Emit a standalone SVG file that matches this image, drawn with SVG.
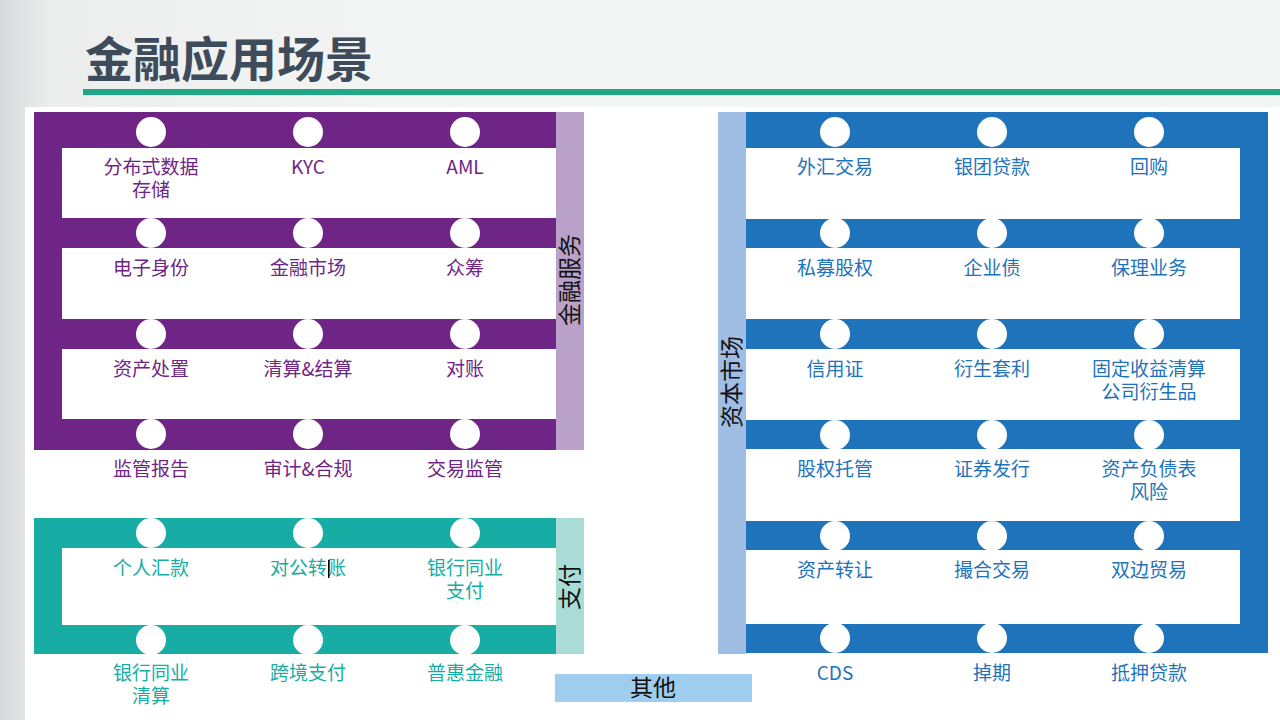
<svg xmlns="http://www.w3.org/2000/svg" width="1280" height="720" viewBox="0 0 1280 720">
  <defs>
    <linearGradient id="bg" x1="0" y1="0" x2="1" y2="0">
      <stop offset="0" stop-color="#d8d9da"/>
      <stop offset="0.04" stop-color="#eceded"/>
      <stop offset="0.3" stop-color="#f3f4f4"/>
      <stop offset="1" stop-color="#f4f5f5"/>
    </linearGradient>
    <style>
      .lbl { font-family: "Noto Sans CJK SC", "Noto Sans", sans-serif; font-size: 19px; text-anchor: middle; }
      .p { fill: #6f2585; }
      .t { fill: #17ada4; }
      .b { fill: #1f73bb; }
      .stn { fill: #ffffff; }
      .side { font-family: "Noto Sans CJK SC", "Noto Sans", sans-serif; font-size: 23px; fill: #111111; text-anchor: middle; }
      .row { fill: #ffffff; }
    </style>
  </defs>

  <rect x="0" y="0" width="1280" height="720" fill="url(#bg)"/>
  <rect x="25" y="107" width="1255" height="613" fill="#ffffff"/>

  <g id="title">
    <text x="85" y="77" font-family="'Noto Sans CJK SC', 'Noto Sans', sans-serif" font-size="48" font-weight="bold" fill="#3d4b5b">金融应用场景</text>
    <rect x="83" y="89" width="1197" height="6" fill="#1fa884"/>
  </g>

  <g id="connectors">
    <!-- 金融服务 line -->
    <rect x="34" y="112" width="522" height="338" fill="#6f2585"/>
    <rect class="row" x="62" y="148" width="494" height="70"/>
    <rect class="row" x="62" y="248" width="494" height="71"/>
    <rect class="row" x="62" y="349" width="494" height="70"/>
    <!-- 支付 line -->
    <rect x="34" y="518" width="522" height="136" fill="#17ada4"/>
    <rect class="row" x="62" y="548" width="494" height="77"/>
    <!-- 资本市场 line -->
    <rect x="746" y="112" width="522" height="541" fill="#1f73bb"/>
    <rect class="row" x="746" y="148" width="494" height="71"/>
    <rect class="row" x="746" y="248" width="494" height="71"/>
    <rect class="row" x="746" y="349" width="494" height="71"/>
    <rect class="row" x="746" y="449" width="494" height="72"/>
    <rect class="row" x="746" y="550" width="494" height="74"/>
  </g>

  <g id="group-jinrongfuwu">
    <rect x="556" y="112" width="28" height="338" fill="#b9a1ca"/>
    <text class="side" transform="translate(578 280) rotate(-90)">金融服务</text>
  </g>
  <g id="group-zhifu">
    <rect x="556" y="518" width="28" height="136" fill="#a9dcd7"/>
    <text class="side" transform="translate(578 587) rotate(-90)">支付</text>
  </g>
  <g id="group-zibenshichang">
    <rect x="718" y="112" width="28" height="542" fill="#a0bee4"/>
    <text class="side" transform="translate(740 382) rotate(-90)">资本市场</text>
  </g>
  <g id="group-qita">
    <rect x="555" y="674" width="197" height="28" fill="#9fcdee"/>
    <text class="side" x="653" y="696">其他</text>
  </g>

  <!-- 金融服务 stations -->
  <g id="n-fenbushi"><circle class="stn" cx="151" cy="132" r="15"/><text class="lbl p" x="151" y="174">分布式数据<tspan x="151" dy="23">存储</tspan></text></g>
  <g id="n-kyc"><circle class="stn" cx="308" cy="132" r="15"/><text class="lbl p" x="308" y="174">KYC</text></g>
  <g id="n-aml"><circle class="stn" cx="465" cy="132" r="15"/><text class="lbl p" x="465" y="174">AML</text></g>
  <g id="n-dianzishenfen"><circle class="stn" cx="151" cy="233" r="15"/><text class="lbl p" x="151" y="275">电子身份</text></g>
  <g id="n-jinrongshichang"><circle class="stn" cx="308" cy="233" r="15"/><text class="lbl p" x="308" y="275">金融市场</text></g>
  <g id="n-zhongchou"><circle class="stn" cx="465" cy="233" r="15"/><text class="lbl p" x="465" y="275">众筹</text></g>
  <g id="n-zichanchuzhi"><circle class="stn" cx="151" cy="334" r="15"/><text class="lbl p" x="151" y="376">资产处置</text></g>
  <g id="n-qingsuan"><circle class="stn" cx="308" cy="334" r="15"/><text class="lbl p" x="308" y="376">清算&amp;结算</text></g>
  <g id="n-duizhang"><circle class="stn" cx="465" cy="334" r="15"/><text class="lbl p" x="465" y="376">对账</text></g>
  <g id="n-jianguanbaogao"><circle class="stn" cx="151" cy="434" r="15"/><text class="lbl p" x="151" y="476">监管报告</text></g>
  <g id="n-shenji"><circle class="stn" cx="308" cy="434" r="15"/><text class="lbl p" x="308" y="476">审计&amp;合规</text></g>
  <g id="n-jiaoyijianguan"><circle class="stn" cx="465" cy="434" r="15"/><text class="lbl p" x="465" y="476">交易监管</text></g>

  <!-- 支付 stations -->
  <g id="n-gerenhuikuan"><circle class="stn" cx="151" cy="533" r="15"/><text class="lbl t" x="151" y="575">个人汇款</text></g>
  <g id="n-duigongzhuanzhang"><circle class="stn" cx="308" cy="533" r="15"/><text class="lbl t" x="308" y="575">对公转账</text><rect x="328" y="560" width="1.5" height="18" fill="#000000"/></g>
  <g id="n-yinhangzhifu"><circle class="stn" cx="465" cy="533" r="15"/><text class="lbl t" x="465" y="575">银行同业<tspan x="465" dy="23">支付</tspan></text></g>
  <g id="n-yinhangqingsuan"><circle class="stn" cx="151" cy="640" r="15"/><text class="lbl t" x="151" y="680">银行同业<tspan x="151" dy="23">清算</tspan></text></g>
  <g id="n-kuajingzhifu"><circle class="stn" cx="308" cy="640" r="15"/><text class="lbl t" x="308" y="680">跨境支付</text></g>
  <g id="n-puhuijinrong"><circle class="stn" cx="465" cy="640" r="15"/><text class="lbl t" x="465" y="680">普惠金融</text></g>

  <!-- 资本市场 stations -->
  <g id="n-waihui"><circle class="stn" cx="835" cy="132" r="15"/><text class="lbl b" x="835" y="174">外汇交易</text></g>
  <g id="n-yintuan"><circle class="stn" cx="992" cy="132" r="15"/><text class="lbl b" x="992" y="174">银团贷款</text></g>
  <g id="n-huigou"><circle class="stn" cx="1149" cy="132" r="15"/><text class="lbl b" x="1149" y="174">回购</text></g>
  <g id="n-simu"><circle class="stn" cx="835" cy="233" r="15"/><text class="lbl b" x="835" y="275">私募股权</text></g>
  <g id="n-qiyezhai"><circle class="stn" cx="992" cy="233" r="15"/><text class="lbl b" x="992" y="275">企业债</text></g>
  <g id="n-baoli"><circle class="stn" cx="1149" cy="233" r="15"/><text class="lbl b" x="1149" y="275">保理业务</text></g>
  <g id="n-xinyongzheng"><circle class="stn" cx="835" cy="334" r="15"/><text class="lbl b" x="835" y="376">信用证</text></g>
  <g id="n-yanshengtaoli"><circle class="stn" cx="992" cy="334" r="15"/><text class="lbl b" x="992" y="376">衍生套利</text></g>
  <g id="n-guding"><circle class="stn" cx="1149" cy="334" r="15"/><text class="lbl b" x="1149" y="376">固定收益清算<tspan x="1149" dy="23">公司衍生品</tspan></text></g>
  <g id="n-guquantuoguan"><circle class="stn" cx="835" cy="435" r="15"/><text class="lbl b" x="835" y="476">股权托管</text></g>
  <g id="n-zhengquanfaxing"><circle class="stn" cx="992" cy="435" r="15"/><text class="lbl b" x="992" y="476">证券发行</text></g>
  <g id="n-zichanfuzhai"><circle class="stn" cx="1149" cy="435" r="15"/><text class="lbl b" x="1149" y="476">资产负债表<tspan x="1149" dy="23">风险</tspan></text></g>
  <g id="n-zichanzhuanrang"><circle class="stn" cx="835" cy="536" r="15"/><text class="lbl b" x="835" y="577">资产转让</text></g>
  <g id="n-cuohe"><circle class="stn" cx="992" cy="536" r="15"/><text class="lbl b" x="992" y="577">撮合交易</text></g>
  <g id="n-shuangbian"><circle class="stn" cx="1149" cy="536" r="15"/><text class="lbl b" x="1149" y="577">双边贸易</text></g>
  <g id="n-cds"><circle class="stn" cx="835" cy="638" r="15"/><text class="lbl b" x="835" y="680">CDS</text></g>
  <g id="n-diaoqi"><circle class="stn" cx="992" cy="638" r="15"/><text class="lbl b" x="992" y="680">掉期</text></g>
  <g id="n-diya"><circle class="stn" cx="1149" cy="638" r="15"/><text class="lbl b" x="1149" y="680">抵押贷款</text></g>
</svg>
